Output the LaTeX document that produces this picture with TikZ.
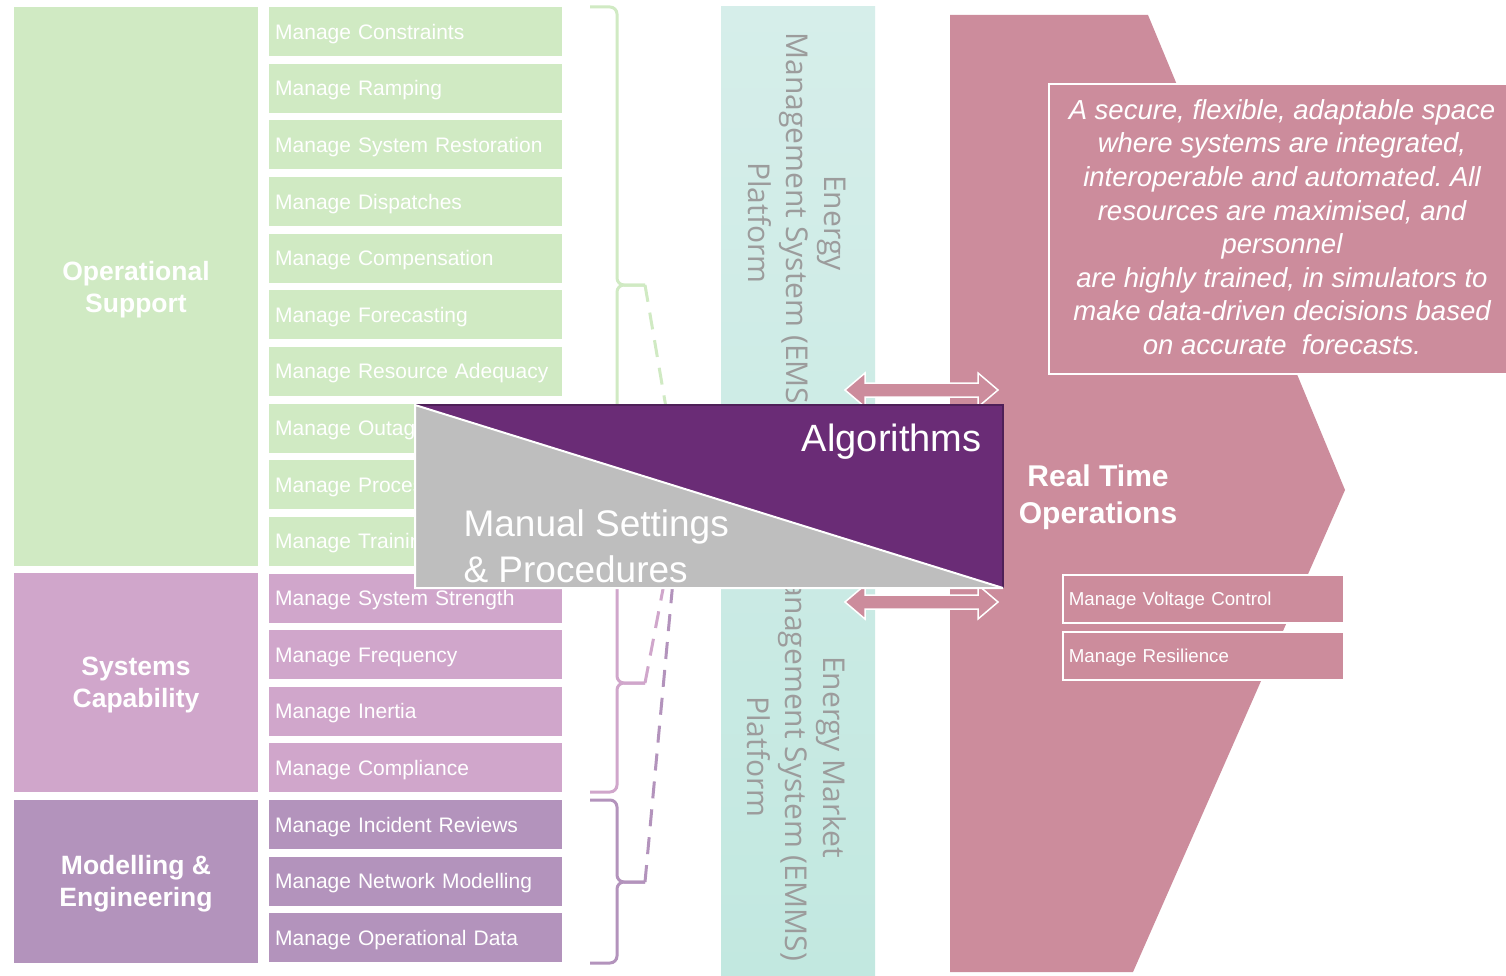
\documentclass[tikz,border=0pt]{standalone}
\usepackage{fontspec}
\setmainfont{Liberation Sans}
\newfontfamily\osans{Open Sans}
\usetikzlibrary{calc}
\frenchspacing
\definecolor{cgreen}{HTML}{D0EAC3}
\definecolor{cpink}{HTML}{D0A6CB}
\definecolor{cpurp}{HTML}{B393BC}
\definecolor{crose}{HTML}{CC8C9C}
\definecolor{ctealA}{HTML}{D6EEEA}
\definecolor{ctealB}{HTML}{C2E8E0}
\definecolor{cviolet}{HTML}{6A2C76}
\definecolor{cvioletdk}{HTML}{4E2058}
\definecolor{cgray}{HTML}{BEBEBE}
\definecolor{ctxt}{HTML}{9C9C9C}
\tikzset{
  item/.style={inner ysep=0pt, inner xsep=6pt, text width=281pt, minimum height=49pt, text height=15pt, text depth=0pt, align=left, text=white, anchor=north west, font=\fontsize{21}{24}\selectfont},
  group/.style={inner sep=0pt, minimum width=244pt, text depth=0pt, text=white, align=center, font=\bfseries\fontsize{26.5}{32}\selectfont},
  bracel/.style={line width=3pt, rounded corners=7pt},
  dashl/.style={line width=3pt, dash pattern=on 17pt off 11pt},
  platf/.style={rotate=-90, text=ctxt, align=center, font=\osans\fontsize{30}{38}\selectfont},
  dblarrow/.style={fill=crose, draw=white, line width=1.5pt, line join=miter},
  rtbox/.style={draw=white, line width=1.8pt, fill=crose, inner ysep=0pt, inner xsep=6pt, text width=269pt, minimum height=48pt, text height=13.5pt, text depth=0pt, align=left, text=white, anchor=north west, font=\fontsize{18.7}{22}\selectfont}
}
\begin{document}
\begin{tikzpicture}[x=1pt,y=-1pt]
\useasboundingbox (0,0) rectangle (1506,976);
\fill[white] (0,0) rectangle (1506,976);

% group boxes
\node[group, fill=cgreen, minimum height=559pt] (ops) at (136,286.5) {Operational\\Support};
\node[group, fill=cpink, minimum height=219pt] (sys) at (136,682.7) {Systems\\Capability};
\node[group, fill=cpurp, minimum height=163pt] (mod) at (136,881.2) {Modelling \&\\Engineering};

% items
\foreach \t [count=\i from 0] in {Manage Constraints, Manage Ramping, Manage System Restoration, Manage Dispatches, Manage Compensation, Manage Forecasting, Manage Resource Adequacy, Manage Outages, Manage Processes, Manage Training}
  \node[item, fill=cgreen] (it\i) at (269,{7+\i*56.63}) {\t};
\foreach \t [count=\i from 10] in {Manage System Strength, Manage Frequency, Manage Inertia, Manage Compliance}
  \node[item, fill=cpink] (it\i) at (269,{7+\i*56.63}) {\t};
\foreach \t [count=\i from 14] in {Manage Incident Reviews, Manage Network Modelling, Manage Operational Data}
  \node[item, fill=cpurp] (it\i) at (269,{7+\i*56.63}) {\t};

% braces
\coordinate (hub) at (681,495);
\coordinate (gtip) at (645,285);
\coordinate (ptip) at (645,683);
\coordinate (vtip) at (645,882);
\draw[bracel, cgreen] (590,7) -- (617,7) -- (617,285) -- (gtip);
\draw[bracel, cgreen] (590,566) -- (617,566) -- (617,285) -- (gtip);
\draw[bracel, cpink] (590,573) -- (617,573) -- (617,683) -- (ptip);
\draw[bracel, cpink] (590,792) -- (617,792) -- (617,683) -- (ptip);
\draw[bracel, cpurp] (590,800) -- (617,800) -- (617,882) -- (vtip);
\draw[bracel, cpurp] (590,963) -- (617,963) -- (617,882) -- (vtip);
\draw[dashl, cgreen] (gtip) -- (hub);
\draw[dashl, cpink] (ptip) -- (hub);
\draw[dashl, cpurp] (vtip) -- (hub);

% platform column
\shade[top color=ctealA, bottom color=ctealB] (721,7) rectangle (875,976);
\node[platf] (ems) at (797,223) {Energy\\Management System (EMS)\\Platform};
\node[platf] (emms) at (797,757) {Energy Market\\Management System (EMMS)\\Platform};

% real time operations shape
\fill[crose] (950,15) -- (1148,15) -- (1345,490) -- (1133,972) -- (950,972) -- cycle;
\node[draw=white, line width=2pt, fill=crose, minimum width=470pt, minimum height=290pt, inner sep=0pt, anchor=north west] (vbox) at (1048,83) {};
\node[text=white, align=center, font=\itshape\fontsize{27.5}{33.6}\selectfont] (vision) at (1282,227)
  {A secure, flexible, adaptable space\\where systems are integrated,\\interoperable and automated. All\\resources are maximised, and\\personnel\\are highly trained, in simulators to\\make data-driven decisions based\\on accurate\ \ forecasts.};
\node[text=white, align=center, font=\bfseries\fontsize{30}{37}\selectfont] (rto) at (1098,497) {Real Time\\Operations};
\node[rtbox] (volt) at (1062,574) {Manage Voltage Control};
\node[rtbox] (resil) at (1062,631) {Manage Resilience};

% double arrows
\foreach \c in {390,602}
  \filldraw[dblarrow] (845,\c) -- (865,\c-17) -- (865,\c-7) -- (978,\c-7) -- (978,\c-17) -- (998,\c) -- (978,\c+17) -- (978,\c+7) -- (865,\c+7) -- (865,\c+17) -- cycle;

% algorithms / manual triangle box
\coordinate (tl) at (415,405);
\coordinate (tr) at (1003,405);
\coordinate (br) at (1003,588);
\coordinate (bl) at (415,588);
\fill[cgray] (tl) -- (br) -- (bl) -- cycle;
\fill[cviolet] (tl) -- (tr) -- (br) -- cycle;
\draw[cvioletdk, line width=1.5pt] (tl) -- (tr) -- (br);
\draw[white, line width=2pt] (br) -- (bl) -- (tl) -- (br);
\node[anchor=east, text=white, font=\fontsize{38}{44}\selectfont] (algo) at (985,442) {Algorithms};
\node[anchor=west, text=white, align=left, font=\fontsize{37}{46}\selectfont] (manual) at (460,546) {Manual Settings\\\& Procedures};
\end{tikzpicture}
\end{document}
